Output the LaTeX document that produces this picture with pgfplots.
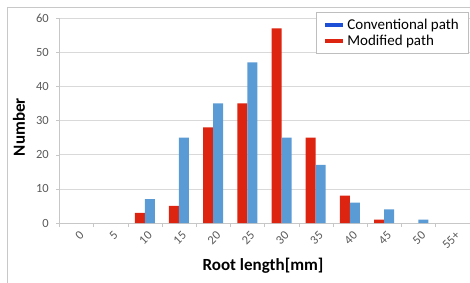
\documentclass[border=0pt]{standalone}
\usepackage{pgfplots}
\pgfplotsset{compat=1.18}
\usepackage{fontspec}
\setmainfont{Carlito}
\definecolor{barred}{HTML}{DC2410}
\definecolor{barblue}{HTML}{5B9BD5}
\definecolor{legblue}{HTML}{1C4FD6}
\definecolor{gridgray}{HTML}{D9D9D9}
\definecolor{ticktext}{HTML}{595959}
\definecolor{framegray}{HTML}{C8C8C8}
\begin{document}
\begin{tikzpicture}
\useasboundingbox (0pt,0pt) rectangle (470pt,282pt);
\draw[framegray, line width=0.8pt] (7pt,-2pt) -- (7pt,275pt) -- (472pt,275pt);
\begin{axis}[
  at={(59.3pt,59pt)}, anchor=south west,
  scale only axis, width=410.3pt, height=205pt,
  xmin=-0.5, xmax=11.5, ymin=0, ymax=60,
  axis x line*=bottom, axis y line*=left,
  axis line style={gridgray!80!gray, -},
  xtick={0,...,11},
  xticklabels={0,5,10,15,20,25,30,35,40,45,50,55+},
  minor xtick={-0.5,0.5,...,11.5},
  major x tick style={draw=none},
  minor x tick style={gridgray!80!gray},
  minor tick length=4pt,
  ytick={0,10,...,60},
  major tick length=3pt,
  y tick style={gridgray!80!gray},
  tick align=outside,
  ymajorgrids, grid style={gridgray, line width=0.6pt},
  ticklabel style={font=\fontsize{12.5}{14}\selectfont, text=ticktext},
  /pgf/number format/assume math mode=true,
  xticklabel style={rotate=45, anchor=east, xshift=2pt, yshift=-9pt},
  yticklabel style={xshift=-4pt},
  xlabel={Root length[mm]},
  ylabel={Number},
  label style={font=\fontsize{17}{19}\selectfont\bfseries},
  xlabel style={at={(axis description cs:0.4965,-0.21)}, anchor=center},
  ylabel style={at={(axis description cs:-0.098,0.468)}, anchor=center, rotate=0},
  legend style={at={(axis description cs:0.6256,1.029)}, anchor=north west,
    draw=gridgray!70!gray, fill=white, font=\fontsize{15}{17}\selectfont,
    inner xsep=7pt, inner ysep=4.5pt, row sep=0pt, cells={anchor=west}},
  legend cell align=left,
  bar width=10pt,
]
\addplot[ybar, fill=barred, draw=none, bar shift=-5pt, forget plot] coordinates {
(2,3) (3,5) (4,28) (5,35) (6,57) (7,25) (8,8) (9,1)};
\addplot[ybar, fill=barblue, draw=none, bar shift=5pt, forget plot] coordinates {
(2,7) (3,25) (4,35) (5,47) (6,25) (7,17) (8,6) (9,4) (10,1)};
\addlegendimage{legend image code/.code={\draw[legblue, line width=4pt] (0pt,0pt) -- (17.6pt,0pt); \path (20pt,0pt);}}
\addlegendentry{Conventional path}
\addlegendimage{legend image code/.code={\draw[barred, line width=4pt] (0pt,0pt) -- (17.6pt,0pt); \path (20pt,0pt);}}
\addlegendentry{Modified path}
\end{axis}
\end{tikzpicture}
\end{document}
